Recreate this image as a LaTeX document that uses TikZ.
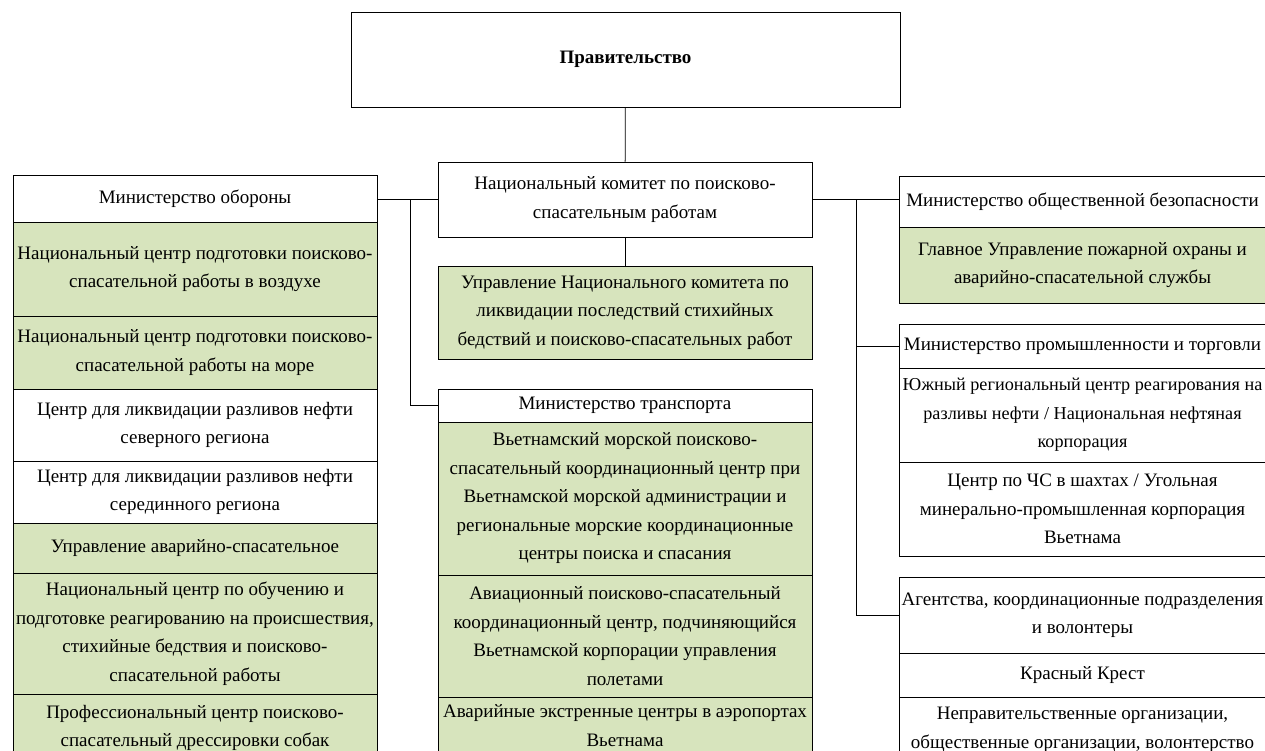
\documentclass[tikz,border=0pt]{standalone}
\usepackage{fontspec}
\setmainfont{Liberation Serif}
\usetikzlibrary{calc}
\definecolor{olivefill}{RGB}{215,228,189}
\tikzset{
	x=1pt, y=-1pt,
	orgbox/.style={draw, line width=0.8pt, inner sep=0pt, align=center, font=\fontsize{19}{28.5}\selectfont},
	leftbox/.style={orgbox, minimum width=364pt},
	midbox/.style={orgbox, minimum width=374pt},
	rightbox/.style={orgbox, minimum width=367pt},
	greenbox/.style={fill=olivefill},
	link/.style={line width=0.8pt}
}

\begin{document}
\begin{tikzpicture}
		%%%%% START %%%%%
		
		\clip (0, 0) rectangle (1265, 751);
		\fill[white] (0, 0) rectangle (1265, 751);
		
		\node[orgbox, minimum width=549pt, minimum height=95pt, font=\fontsize{19}{28.5}\selectfont\bfseries] (gov) at (625.5, 59.5) {Правительство};
		
		\node[midbox, minimum height=75pt] (comm) at (625, 199.5) {Национальный комитет по поисково-\\спасательным работам};
		\node[midbox, greenbox, minimum height=93pt] (mgmt) at (625, 312.5) {Управление Национального комитета по\\ликвидации последствий стихийных\\бедствий и поисково-спасательных работ};
		
		\node[midbox, minimum height=33pt] (mt) at (625, 405.5) {Министерство транспорта};
		\node[midbox, greenbox, minimum height=153pt] (mt1) at (625, 498.5) {Вьетнамский морской поисково-\\спасательный координационный центр при\\Вьетнамской морской администрации и\\региональные морские координационные\\центры поиска и спасания};
		\node[midbox, greenbox, minimum height=122pt] (mt2) at (625, 636) {Авиационный поисково-спасательный\\координационный центр, подчиняющийся\\Вьетнамской корпорации управления\\полетами};
		\node[midbox, greenbox, minimum height=57pt] (mt3) at (625, 725.5) {Аварийные экстренные центры в аэропортах\\Вьетнама};
		
		\node[leftbox, minimum height=47pt] (mo) at (195, 198.5) {Министерство обороны};
		\node[leftbox, greenbox, minimum height=94pt] (mo1) at (195, 269) {Национальный центр подготовки поисково-\\спасательной работы в воздухе};
		\node[leftbox, greenbox, minimum height=73pt] (mo2) at (195, 352.5) {Национальный центр подготовки поисково-\\спасательной работы на море};
		\node[leftbox, minimum height=72pt] (mo3) at (195, 425) {Центр для ликвидации разливов нефти\\северного региона};
		\node[leftbox, minimum height=62pt] (mo4) at (195, 492) {Центр для ликвидации разливов нефти\\серединного региона};
		\node[leftbox, greenbox, minimum height=50pt] (mo5) at (195, 548) {Управление аварийно-спасательное};
		\node[leftbox, greenbox, minimum height=121pt] (mo6) at (195, 633.5) {Национальный центр по обучению и\\подготовке реагированию на происшествия,\\стихийные бедствия и поисково-\\спасательной работы};
		\node[leftbox, greenbox, minimum height=68pt] (mo7) at (195, 728) {Профессиональный центр поисково-\\спасательный дрессировки собак};
		
		\node[rightbox, minimum height=51pt] (mob) at (1082.5, 201.5) {Министерство общественной безопасности};
		\node[rightbox, greenbox, minimum height=76pt] (mob1) at (1082.5, 265) {Главное Управление пожарной охраны и\\аварийно-спасательной службы};
		
		\node[rightbox, minimum height=44pt] (mpt) at (1082.5, 346) {Министерство промышленности и торговли};
		\node[rightbox, minimum height=94pt, font=\fontsize{18.2}{28.5}\selectfont] (mpt1) at (1082.5, 415) {Южный региональный центр реагирования на\\разливы нефти / Национальная нефтяная\\корпорация};
		\node[rightbox, minimum height=94pt] (mpt2) at (1082.5, 509) {Центр по ЧС в шахтах / Угольная\\минерально-промышленная корпорация\\Вьетнама};
		
		\node[rightbox, minimum height=76pt] (ag) at (1082.5, 615) {Агентства, координационные подразделения\\и волонтеры};
		\node[rightbox, minimum height=44pt] (ag1) at (1082.5, 675) {Красный Крест};
		\node[rightbox, minimum height=66pt] (ag2) at (1082.5, 730) {Неправительственные организации,\\общественные организации, волонтерство};
		
		% connectors
		\coordinate (jl) at (410, 199.5);
		\coordinate (jr) at (856, 199.5);
		
		\draw[link] (gov) -- (comm);
		\draw[link] (comm) -- (mgmt);
		\draw[link] (comm.west) -- (comm.west -| mo.east);
		\draw[link] (jl) |- (mt.west);
		\draw[link] (comm.east) -- (comm.east -| mob.west);
		\draw[link] (jr) |- (mpt.west);
		\draw[link] (jr) |- (ag.west);
		
		%%%%% END %%%%%
	\end{tikzpicture}
\end{document}
